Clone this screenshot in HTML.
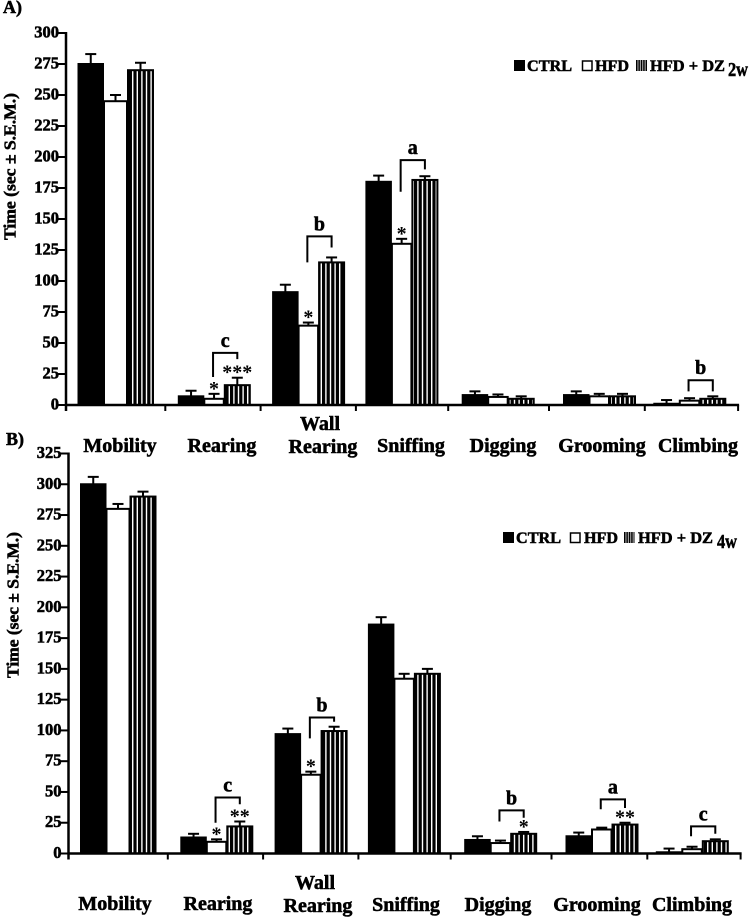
<!DOCTYPE html>
<html lang="en">
<head>
<meta charset="utf-8">
<title>Behavioural time by activity</title>
<style>
html,body{margin:0;padding:0;background:#fff;}
svg{display:block;filter:blur(0.35px);}
text{font-family:"Liberation Serif",serif;font-weight:bold;fill:#000;stroke:#000;stroke-width:0.55px;}
</style>
</head>
<body>
<svg id="chart" xmlns="http://www.w3.org/2000/svg" width="749" height="917" viewBox="0 0 749 917">
<defs>
<pattern id="stripes" patternUnits="userSpaceOnUse" width="4.6" height="10">
<rect width="4.6" height="10" fill="#fff"/>
<rect width="3.2" height="10" fill="#000"/>
</pattern>
<pattern id="legend-stripes" patternUnits="userSpaceOnUse" width="2.4" height="10">
<rect width="2.4" height="10" fill="#ccc"/>
<rect width="1.5" height="10" fill="#000"/>
</pattern>
</defs>

<g id="panel-a">
<text x="3" y="13" font-size="18">A)</text>
<text transform="translate(15.5,240) rotate(-90)" font-size="17" textLength="147" lengthAdjust="spacingAndGlyphs">Time (sec ± S.E.M.)</text>
<g>
<rect x="514" y="60" width="11" height="11" fill="#000"/>
<text x="527" y="71" font-size="16" textLength="45" lengthAdjust="spacingAndGlyphs">CTRL</text>
<rect x="582.5" y="61" width="9.5" height="9.5" fill="#fff" stroke="#000" stroke-width="1.5"/>
<text x="595" y="71" font-size="16" textLength="34" lengthAdjust="spacingAndGlyphs">HFD</text>
<rect x="636" y="60" width="11" height="11" fill="url(#legend-stripes)"/>
<text x="650" y="71" font-size="16" textLength="75" lengthAdjust="spacingAndGlyphs">HFD + DZ</text>
<text x="728" y="76" font-size="20" textLength="20" lengthAdjust="spacingAndGlyphs">2w</text>
</g>
<g font-size="20" text-anchor="middle">
<text x="120" y="452">Mobility</text>
<text x="222" y="452">Rearing</text>
<text x="320" y="430">Wall</text>
<text x="323" y="453">Rearing</text>
<text x="411" y="452">Sniffing</text>
<text x="503" y="452">Digging</text>
<text x="602" y="452">Grooming</text>
<text x="698" y="452">Climbing</text>
</g>
</g>

<g id="panel-b">
<text x="6" y="445" font-size="18">B)</text>
<text transform="translate(18.5,678) rotate(-90)" font-size="17" textLength="146" lengthAdjust="spacingAndGlyphs">Time (sec ± S.E.M.)</text>
<g>
<rect x="503" y="532" width="11" height="11" fill="#000"/>
<text x="516" y="543" font-size="16" textLength="45" lengthAdjust="spacingAndGlyphs">CTRL</text>
<rect x="570.5" y="533" width="9.5" height="9.5" fill="#fff" stroke="#000" stroke-width="1.5"/>
<text x="584" y="543" font-size="16" textLength="34" lengthAdjust="spacingAndGlyphs">HFD</text>
<rect x="624" y="532" width="10.5" height="11" fill="url(#legend-stripes)"/>
<text x="638" y="543" font-size="16" textLength="75" lengthAdjust="spacingAndGlyphs">HFD + DZ</text>
<text x="717" y="548" font-size="20" textLength="20" lengthAdjust="spacingAndGlyphs">4w</text>
</g>
<g font-size="20" text-anchor="middle">
<text x="115" y="910">Mobility</text>
<text x="218" y="910">Rearing</text>
<text x="315" y="889">Wall</text>
<text x="318" y="912">Rearing</text>
<text x="406" y="911">Sniffing</text>
<text x="498" y="911">Digging</text>
<text x="597" y="911">Grooming</text>
<text x="692" y="911">Climbing</text>
</g>
</g>
</svg>

<script>
const categories = ['Mobility', 'Rearing', 'Wall Rearing', 'Sniffing', 'Digging', 'Grooming', 'Climbing'];
const seriesNames = ['ctrl', 'hfd', 'hfd-dz'];

const ctrlA = [275, 7, 91, 180, 8, 8, 1];
const hfdA = [245, 5, 64, 130, 6.5, 7, 3.5];
const dzA = [270, 16, 115, 181.5, 5, 7, 5];
const ctrlErrA = [8, 4.5, 6, 5, 3, 3, 3];
const hfdErrA = [5, 4, 2.5, 4, 2, 2, 2];
const dzErrA = [6, 6, 4, 3, 2, 2, 2];
const yTicksA = [0, 25, 50, 75, 100, 125, 150, 175, 200, 225, 250, 275, 300];

const ctrlB = [300, 13, 97, 186, 11, 14, 1];
const hfdB = [280, 9.5, 64, 142, 8.5, 19.5, 3.5];
const dzB = [290, 22, 99.5, 146, 16, 23.5, 10];
const ctrlErrB = [6, 3, 4.5, 6, 3, 3, 3];
const hfdErrB = [4, 2, 2.5, 4, 2, 1.5, 2];
const dzErrB = [4, 4, 3.5, 4, 1.5, 1.5, 1.5];
const yTicksB = [0, 25, 50, 75, 100, 125, 150, 175, 200, 225, 250, 275, 300, 325];

const bracketGroupA = [1, 2, 3, 6];
const bracketTopA = [42, 136, 197.5, 20];
const bracketLeftEndA = [22.6, 115, 172, 11];
const bracketRightEndA = [37, 127, 190, 11];
const bracketLetterA = ['c', 'b', 'a', 'b'];
const starGroupA = [1, 1, 2, 3];
const starSeriesA = [1, 2, 1, 1];
const starTextA = ['*', '***', '*', '*'];

const bracketGroupB = [1, 2, 4, 5, 6];
const bracketTopB = [45.5, 110.5, 35, 44, 22];
const bracketLeftEndB = [25, 93.5, 26, 36, 14];
const bracketRightEndB = [40, 107, 29, 37, 16];
const bracketLetterB = ['c', 'b', 'b', 'a', 'c'];
const starGroupB = [1, 1, 2, 4, 5];
const starSeriesB = [1, 2, 1, 2, 2];
const starTextB = ['*', '**', '*', '*', '**'];

/* Layout (not data): axis geometry and hand-drawn spacing of the original figure */
const BAND_STEP = 96.3;
const bandNudge = [-1, 3, 1, -2, -2, 3, -3];
const tickNudge = [0, 3, 2, 1, -3, 1.5, 1, -2];
const SVG_NS = 'http://www.w3.org/2000/svg';
const svg = document.getElementById('chart');

function make(parent, tag, attrs, content) {
  const node = document.createElementNS(SVG_NS, tag);
  for (const key in attrs) node.setAttribute(key, attrs[key]);
  if (content !== undefined) node.textContent = content;
  parent.appendChild(node);
  return node;
}

function drawPanel(cfg) {
  const root = document.getElementById(cfg.rootId);
  const y = function (v) { return cfg.y0 - v * cfg.unit; };
  const bandX = function (i) { return cfg.bandStart + BAND_STEP * i + bandNudge[i]; };
  const tickX = function (i) { return cfg.axisX + BAND_STEP * i + tickNudge[i]; };
  const barW = function (i, s) {
    if (s === 0) return 25.5;
    if (s === 2) return 26;
    return i === 0 ? 24 : 20.5;
  };
  const barX = function (i, s) {
    let x = bandX(i);
    for (let k = 0; k < s; k++) x += barW(i, k);
    return x;
  };
  const barCentre = function (i, s) { return barX(i, s) + barW(i, s) / 2; };
  const fills = ['#000', '#fff', 'url(#stripes)'];

  for (let s = 0; s < 3; s++) {
    for (let i = 0; i < categories.length; i++) {
      const value = cfg.values[s][i];
      const err = cfg.errors[s][i];
      const cx = barCentre(i, s);

      const errStem = make(root, 'line', {x1: cx, x2: cx, y1: y(value), y2: y(value + err), stroke: '#000', 'stroke-width': 2});
      
      

      const errCap = make(root, 'line', {x1: cx - 5.5, x2: cx + 5.5, y1: y(value + err), y2: y(value + err), stroke: '#000', 'stroke-width': 2});
      
      

      const bar = make(root, 'rect', {x: barX(i, s) + 0.5, y: y(value), width: barW(i, s) - 1, height: cfg.y0 - y(value), fill: fills[s], stroke: '#000', 'stroke-width': 2});
      
      
    }
  }

  const yAxis = make(root, 'line', {x1: cfg.axisX, x2: cfg.axisX, y1: y(cfg.yTicks[cfg.yTicks.length - 1]) - 1, y2: cfg.y0 + 6, stroke: '#000', 'stroke-width': 2.5});
  
  

  const xAxis = make(root, 'line', {x1: cfg.axisX, x2: tickX(7) + 1, y1: cfg.y0, y2: cfg.y0, stroke: '#000', 'stroke-width': 2.5});
  
  

  for (let t = 0; t < cfg.yTicks.length; t++) {
    const v = cfg.yTicks[t];
    const tick = make(root, 'line', {x1: cfg.axisX - 8, x2: cfg.axisX, y1: y(v), y2: y(v), stroke: '#000', 'stroke-width': 2});
    
    

    const label = make(root, 'text', {x: cfg.axisX - 7, y: y(v) + 4.5, 'font-size': 16.5, 'text-anchor': 'end'}, String(v));
    
    
  }

  for (let i = 0; i < 8; i++) {
    const tick = make(root, 'line', {x1: tickX(i), x2: tickX(i), y1: cfg.y0, y2: cfg.y0 + 6, stroke: '#000', 'stroke-width': 2});
    
    
  }

  for (let b = 0; b < cfg.bracketGroup.length; b++) {
    const g = cfg.bracketGroup[b];
    const left = barCentre(g, 1) - 1;
    const right = barCentre(g, 2);
    const d = 'M' + left + ' ' + y(cfg.bracketLeft[b]) + 'V' + y(cfg.bracketTop[b]) + 'H' + right + 'V' + y(cfg.bracketRight[b]);
    const bracket = make(root, 'path', {d: d, fill: 'none', stroke: '#000', 'stroke-width': 2});
    
    

    const letter = make(root, 'text', {x: (left + right) / 2, y: y(cfg.bracketTop[b]) - 6, 'font-size': 20, 'text-anchor': 'middle'}, cfg.bracketLetter[b]);
    
    
  }

  for (let a = 0; a < cfg.starGroup.length; a++) {
    const g = cfg.starGroup[a];
    const s = cfg.starSeries[a];
    const top = cfg.values[s][g] + cfg.errors[s][g];
    const star = make(root, 'text', {x: barCentre(g, s), y: y(top) + 1, 'font-size': 20, 'text-anchor': 'middle', style: 'stroke-width:0'}, cfg.starText[a]);
    
    
  }
}

drawPanel({
  rootId: 'panel-a', y0: 405, unit: 1.24, axisX: 66, bandStart: 79,
  values: [ctrlA, hfdA, dzA], errors: [ctrlErrA, hfdErrA, dzErrA], yTicks: yTicksA,
  bracketGroup: bracketGroupA, bracketTop: bracketTopA, bracketLeft: bracketLeftEndA, bracketRight: bracketRightEndA, bracketLetter: bracketLetterA,
  starGroup: starGroupA, starSeries: starSeriesA, starText: starTextA
});
drawPanel({
  rootId: 'panel-b', y0: 853.5, unit: 1.2308, axisX: 68.5, bandStart: 81.5,
  values: [ctrlB, hfdB, dzB], errors: [ctrlErrB, hfdErrB, dzErrB], yTicks: yTicksB,
  bracketGroup: bracketGroupB, bracketTop: bracketTopB, bracketLeft: bracketLeftEndB, bracketRight: bracketRightEndB, bracketLetter: bracketLetterB,
  starGroup: starGroupB, starSeries: starSeriesB, starText: starTextB
});
</script>
</body>
</html>
